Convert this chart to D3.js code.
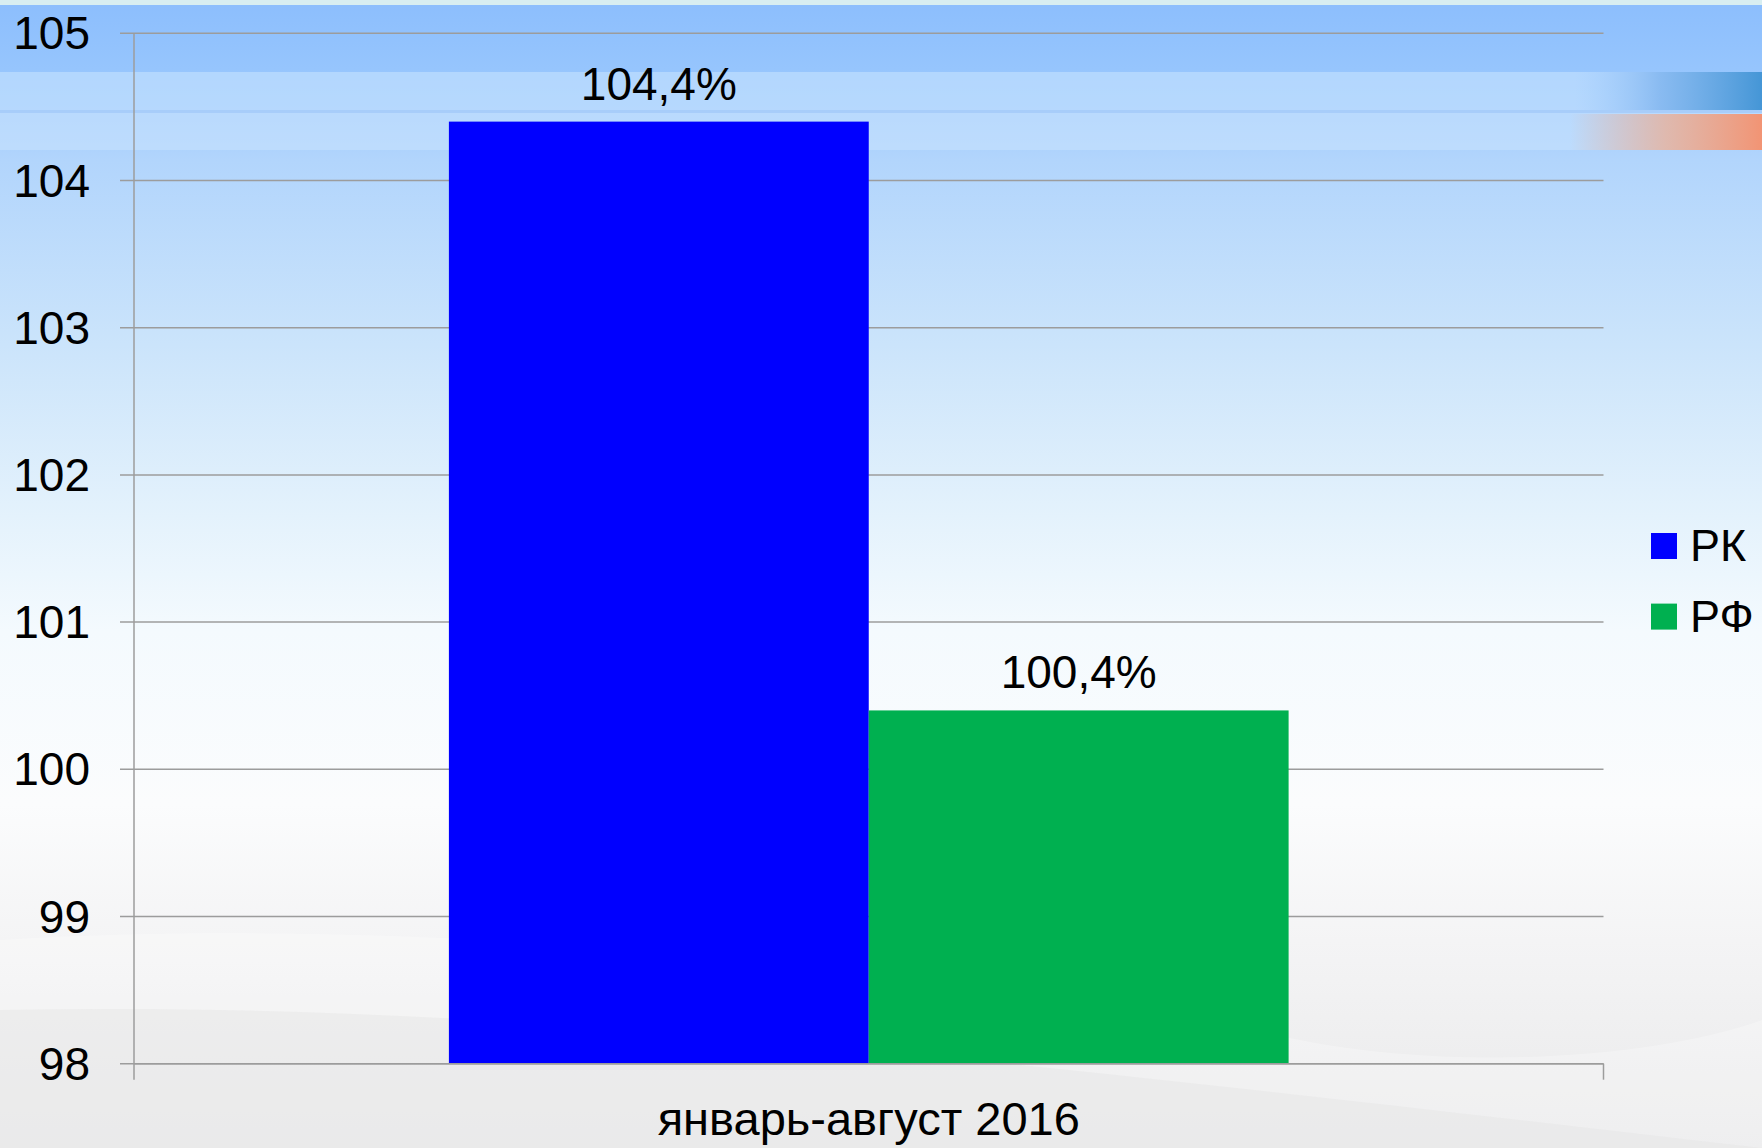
<!DOCTYPE html>
<html>
<head>
<meta charset="utf-8">
<script src="https://cdn.jsdelivr.net/npm/d3@7"></script>
<style>
  html, body { margin: 0; padding: 0; background: #fff; }
  svg { display: block; font-family: "Liberation Sans", Arial, sans-serif; }
</style>
</head>
<body>
<div id="chart"></div>
<script>
// данные
const categories = ["январь-август 2016"];
const seriesNames = ["РК", "РФ"];
const seriesColors = ["#0000ff", "#00b050"];
const values = [[104.4, 100.4]]; // по категориям: [РК, РФ]
const yTicks = [98, 99, 100, 101, 102, 103, 104, 105];

function drawChart(containerId, width, height) {
    const margin = { top: 33.3, right: 158.5, bottom: 84.3, left: 134 };
    const w = width - margin.left - margin.right;
    const h = height - margin.top - margin.bottom;

    const svg = d3.select(containerId)
        .append("svg")
        .attr("width", width)
        .attr("height", height);

    // --- фон слайда ---
    const defs = svg.append("defs");
    const bg = defs.append("linearGradient").attr("id", "bgGrad")
        .attr("x1", 0).attr("y1", 0).attr("x2", 0).attr("y2", 1);
    [[0, "#8cbefd"], [0.06, "#96c5fd"], [0.14, "#b2d5fc"], [0.3, "#cbe4fb"],
     [0.45, "#e4f2fc"], [0.55, "#f4fafe"], [0.7, "#fbfcfd"], [0.82, "#f4f4f5"], [1, "#e9e9ea"]]
        .forEach(s => bg.append("stop").attr("offset", s[0]).attr("stop-color", s[1]));

    const blueStreak = defs.append("linearGradient").attr("id", "blueStreak");
    blueStreak.append("stop").attr("offset", 0).attr("stop-color", "#9cc8fc").attr("stop-opacity", 0);
    blueStreak.append("stop").attr("offset", 0.45).attr("stop-color", "#7fb4ee").attr("stop-opacity", 0.8);
    blueStreak.append("stop").attr("offset", 1).attr("stop-color", "#4596d6").attr("stop-opacity", 1);

    const orangeStreak = defs.append("linearGradient").attr("id", "orangeStreak");
    orangeStreak.append("stop").attr("offset", 0).attr("stop-color", "#f2a27e").attr("stop-opacity", 0);
    orangeStreak.append("stop").attr("offset", 0.5).attr("stop-color", "#eeaa8c").attr("stop-opacity", 0.7);
    orangeStreak.append("stop").attr("offset", 1).attr("stop-color", "#f29474").attr("stop-opacity", 1);

    svg.append("rect").attr("width", width).attr("height", height).attr("fill", "url(#bgGrad)");
    svg.append("rect").attr("width", width).attr("height", 5).attr("fill", "#d8eef1");
    svg.append("rect").attr("y", 72).attr("width", width).attr("height", 38).attr("fill", "#bcdcfe").attr("opacity", 0.75);
    svg.append("rect").attr("y", 110).attr("width", width).attr("height", 3).attr("fill", "#a9cdf9").attr("opacity", 0.8);
    svg.append("rect").attr("y", 113).attr("width", width).attr("height", 37).attr("fill", "#c3e0fd").attr("opacity", 0.7);
    svg.append("rect").attr("x", 1575).attr("y", 72).attr("width", width - 1575).attr("height", 38).attr("fill", "url(#blueStreak)");
    svg.append("rect").attr("x", 1570).attr("y", 114).attr("width", width - 1570).attr("height", 36).attr("fill", "url(#orangeStreak)");

    // волны внизу
    svg.append("path")
        .attr("d", `M0,940 C400,915 900,960 1300,1040 C1450,1070 1650,1060 ${width},1020 L${width},${height} L0,${height} Z`)
        .attr("fill", "#ffffff").attr("opacity", 0.25);
    svg.append("path")
        .attr("d", `M0,1010 C500,1000 1000,1060 1762,1148 L0,1148 Z`)
        .attr("fill", "#e4e4e5").attr("opacity", 0.45);

    const g = svg.append("g").attr("transform", `translate(${margin.left},${margin.top})`);

    const y = d3.scaleLinear().domain([98, 105]).range([h, 0]);
    const x0 = d3.scaleBand().domain(categories).range([0, w]).paddingInner(0).paddingOuter(0.375);
    const x1 = d3.scaleBand().domain(seriesNames).range([0, x0.bandwidth()]).padding(0);

    // сетка
    g.append("g")
        .selectAll("line")
        .data(yTicks)
        .enter().append("line")
        .attr("x1", -14).attr("x2", w)
        .attr("y1", d => y(d)).attr("y2", d => y(d))
        .attr("stroke", "#9c9c9c").attr("stroke-width", 1.5);

    // ось Y
    const yAxis = g.append("g")
        .call(d3.axisLeft(y).tickValues(yTicks).tickSize(0).tickPadding(44).tickFormat(d3.format("d")));
    yAxis.select(".domain").remove();
    yAxis.selectAll("text").style("font-size", "46px").attr("fill", "#000").attr("dy", "0.34em");

    g.append("line").attr("x1", 0).attr("x2", 0).attr("y1", 0).attr("y2", h + 16)
        .attr("stroke", "#9c9c9c").attr("stroke-width", 1.5);
    g.append("line").attr("x1", w).attr("x2", w).attr("y1", h).attr("y2", h + 16)
        .attr("stroke", "#9c9c9c").attr("stroke-width", 1.5);

    // столбцы
    const groups = g.selectAll(".cat").data(categories).enter().append("g")
        .attr("transform", d => `translate(${x0(d)},0)`);

    const rows = d => seriesNames.map((s, i) => ({ s, i, v: values[categories.indexOf(d)][i] }));

    groups.selectAll("rect").data(rows).enter().append("rect")
        .attr("x", d => x1(d.s))
        .attr("y", d => y(d.v))
        .attr("width", x1.bandwidth())
        .attr("height", d => h - y(d.v))
        .attr("fill", d => seriesColors[d.i]);

    groups.selectAll("text.lbl").data(rows).enter().append("text")
        .attr("class", "lbl")
        .attr("x", d => x1(d.s) + x1.bandwidth() / 2)
        .attr("y", d => y(d.v) - 22)
        .attr("text-anchor", "middle")
        .style("font-size", "46px")
        .attr("fill", "#000")
        .text(d => d.v.toFixed(1).replace(".", ",") + "%");

    // ось X
    g.append("line").attr("x1", 0).attr("x2", w).attr("y1", h).attr("y2", h)
        .attr("stroke", "#9c9c9c").attr("stroke-width", 1.5);

    g.selectAll(".xlbl").data(categories).enter().append("text")
        .attr("x", d => x0(d) + x0.bandwidth() / 2)
        .attr("y", h + 71)
        .attr("text-anchor", "middle")
        .style("font-size", "47px")
        .attr("fill", "#000")
        .text(d => d);

    // легенда
    const legend = svg.append("g").attr("transform", "translate(1651,533)");
    const items = legend.selectAll("g").data(seriesNames).enter().append("g")
        .attr("transform", (d, i) => `translate(0,${i * 70.6})`);
    items.append("rect").attr("width", 26).attr("height", 26)
        .attr("fill", (d, i) => seriesColors[i]);
    items.append("text").attr("x", 39).attr("y", 28)
        .style("font-size", "45px").attr("fill", "#000")
        .text(d => d);
}

drawChart("#chart", 1762, 1148);
</script>
</body>
</html>
